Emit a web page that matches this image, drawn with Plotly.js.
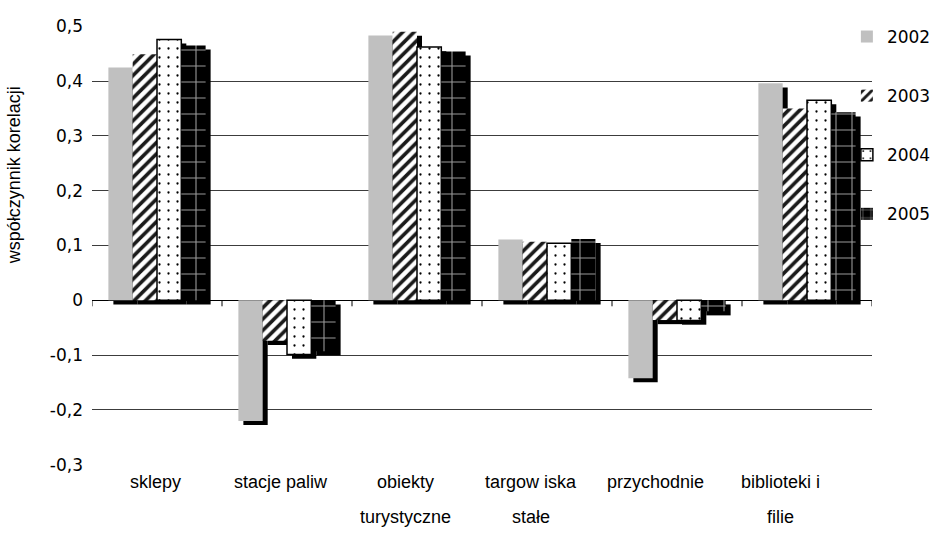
<!DOCTYPE html>
<html>
<head>
<meta charset="utf-8">
<script src="https://cdn.plot.ly/plotly-3.0.1.min.js"></script>
<style>
  html, body { margin: 0; padding: 0; background: #ffffff; }
  #chart { width: 940px; height: 549px; }
</style>
</head>
<body>
<div id="chart"></div>
<script>
// ---- data ----
const categories = ['sklepy', 'stacje paliw', 'obiekty turystyczne', 'targow iska stałe', 'przychodnie', 'biblioteki i filie'];
const categoryLabels = ['sklepy', 'stacje paliw', 'obiekty<br>turystyczne', 'targow iska<br>stałe', 'przychodnie', 'biblioteki i<br>filie'];
const years = ['2002', '2003', '2004', '2005'];
const v2002 = [0.425, -0.220, 0.483, 0.111, -0.142, 0.396];
const v2003 = [0.449, -0.074, 0.490, 0.107, -0.036, 0.350];
const v2004 = [0.476, -0.099, 0.462, 0.104, -0.037, 0.365];
const v2005 = [0.465, -0.093, 0.454, 0.112, -0.020, 0.343];
const yTickVals = [-0.3, -0.2, -0.1, 0, 0.1, 0.2, 0.3, 0.4, 0.5];
const yTickText = ['-0,3', '-0,2', '-0,1', '0', '0,1', '0,2', '0,3', '0,4', '0,5'];
const yTitle = 'współczynnik korelacji';

// ---- styling ----
const series = [v2002, v2003, v2004, v2005];
const markers = [
  { color: '#c0c0c0', line: { width: 0 } },
  { color: '#ffffff', line: { width: 0 },
    pattern: { shape: '/', fgcolor: '#1a1a1a', bgcolor: '#ffffff', size: 8, solidity: 0.45 } },
  { color: '#ffffff', line: { width: 1.5, color: '#000000' },
    pattern: { shape: '.', fgcolor: '#000000', bgcolor: '#ffffff', size: 9, solidity: 0.05 } },
  { color: '#000000', line: { width: 0 },
    pattern: { shape: '+', fgcolor: '#9a9a9a', bgcolor: '#000000', size: 16, solidity: 0.13 } }
];
const barW = 0.187;
const groupStart = -0.374;
const shadowDx = 5 / 130;
const shadowDy = 0.0075;

const traces = [];
series.forEach((vals, k) => {
  traces.push({
    type: 'bar', x: categories, y: vals, base: -shadowDy,
    offset: groupStart + k * barW + shadowDx, width: barW,
    marker: { color: '#000000', line: { width: 0 } },
    showlegend: false, hoverinfo: 'skip'
  });
});
series.forEach((vals, k) => {
  traces.push({
    type: 'bar', x: categories, y: vals, name: years[k],
    legendgroup: years[k],
    offset: groupStart + k * barW, width: barW,
    marker: markers[k]
  });
});

const shapes = [];
for (let b = 0; b <= categories.length; b++) {
  shapes.push({
    type: 'line', xref: 'x', yref: 'y', x0: b - 0.5, x1: b - 0.5,
    ysizemode: 'pixel', yanchor: 0, y0: 0, y1: -6,
    line: { color: '#000000', width: 1 }
  });
}
// legend box hides the right end of the upper gridlines
shapes.push({
  type: 'rect', xref: 'paper', yref: 'paper', x0: 0.9628, x1: 1.0, y0: 0.517, y1: 1.02,
  fillcolor: '#ffffff', line: { width: 0 }, layer: 'between'
});

const annotations = [];
categoryLabels.forEach((lab, i) => {
  lab.split('<br>').forEach((line, j) => {
    annotations.push({
      text: line, xref: 'x', yref: 'paper', x: categories[i], y: 0,
      xanchor: 'center', yanchor: 'middle', showarrow: false,
      xshift: -1.5 - 5 * i, yshift: -17 - 35 * j,
      font: { family: 'Liberation Sans, Arial, sans-serif', size: 18, color: '#000000' }
    });
  });
});
annotations.push({
  text: yTitle, xref: 'paper', yref: 'paper', x: -0.1, y: 0.66,
  xanchor: 'center', yanchor: 'middle', textangle: -90, showarrow: false,
  font: { family: 'Liberation Sans, Arial, sans-serif', size: 18, color: '#000000' }
});

const layout = {
  width: 940, height: 549,
  margin: { l: 92, r: 68, t: 26, b: 84, autoexpand: false },
  paper_bgcolor: '#ffffff', plot_bgcolor: '#ffffff',
  barmode: 'overlay',
  showlegend: true,
  legend: {
    x: 0.9678, xanchor: 'left', y: 1.016, yanchor: 'top',
    bgcolor: 'rgba(0,0,0,0)', borderwidth: 0,
    tracegroupgap: 34,
    font: { family: 'DejaVu Sans, sans-serif', size: 17, color: '#000000' }
  },
  xaxis: {
    type: 'category', categoryorder: 'array', categoryarray: categories,
    range: [-0.5, 5.5], showticklabels: false, showgrid: false,
    zeroline: false, showline: false, ticks: '', automargin: false
  },
  yaxis: {
    range: [-0.3005, 0.5005], tickvals: yTickVals, ticktext: yTickText,
    showgrid: true, gridcolor: '#3c3c3c', gridwidth: 1,
    zeroline: true, zerolinecolor: '#000000', zerolinewidth: 1.3,
    showline: false, ticks: '', ticklabelstandoff: 8, automargin: false,
    tickfont: { family: 'DejaVu Sans, sans-serif', size: 17, color: '#000000' }
  },
  shapes: shapes,
  annotations: annotations,
  font: { family: 'Liberation Sans, Arial, sans-serif', color: '#000000' }
};

Plotly.newPlot('chart', traces, layout, { displayModeBar: false, staticPlot: true });
</script>
</body>
</html>
